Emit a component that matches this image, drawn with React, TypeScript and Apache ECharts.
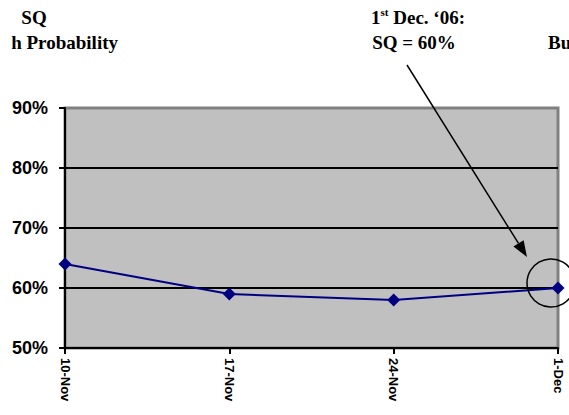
import React, { useEffect, useRef } from "react";
import * as echarts from "echarts";

const categories = ["10-Nov", "17-Nov", "24-Nov", "1-Dec"];
const sqValues = [64, 59, 58, 60];
const yMin = 50;
const yMax = 90;
const yStep = 10;

export default function App() {
  const ref = useRef<HTMLDivElement>(null);

  useEffect(() => {
    if (!ref.current) return;
    const chart = echarts.init(ref.current, undefined, { renderer: "svg" });
    const serif = "'Liberation Serif', 'Times New Roman', serif";
    const sans = "'Liberation Sans', Arial, sans-serif";

    chart.setOption({
      animation: false,
      backgroundColor: "#ffffff",
      grid: {
        left: 65,
        right: 11,
        top: 108,
        bottom: 67,
        show: true,
        backgroundColor: "#C0C0C0",
        borderColor: "#808080",
        borderWidth: 3,
        containLabel: false,
      },
      xAxis: {
        type: "category",
        data: categories,
        boundaryGap: false,
        axisLine: { show: true, lineStyle: { color: "#000", width: 2 } },
        axisTick: { show: true, length: 6, lineStyle: { color: "#000", width: 2 } },
        axisLabel: {
          rotate: -90,
          margin: 10,
          color: "#000",
          fontFamily: sans,
          fontWeight: "bold",
          fontSize: 13,
        },
        splitLine: { show: false },
      },
      yAxis: {
        type: "value",
        min: yMin,
        max: yMax,
        interval: yStep,
        axisLine: { show: true, lineStyle: { color: "#000", width: 2 } },
        axisTick: { show: true, length: 6, lineStyle: { color: "#000", width: 2 } },
        axisLabel: {
          formatter: "{value}%",
          margin: 17,
          color: "#000",
          fontFamily: sans,
          fontWeight: "bold",
          fontSize: 18,
        },
        splitLine: {
          show: true,
          showMinLine: false,
          showMaxLine: false,
          lineStyle: { color: "#000", width: 2 },
        },
      },
      series: [
        {
          type: "line",
          data: sqValues,
          symbol: "diamond",
          symbolSize: 13,
          lineStyle: { color: "#000080", width: 2 },
          itemStyle: { color: "#000080" },
          z: 5,
        },
      ],
    });

    const last = categories.length - 1;
    const pt = chart.convertToPixel({ seriesIndex: 0 }, [last, sqValues[last]]) as number[];
    const px = pt[0];
    const py = pt[1];
    const start = [407, 65];
    const tip = [px - 31, py - 31];
    const dx = tip[0] - start[0];
    const dy = tip[1] - start[1];
    const len = Math.sqrt(dx * dx + dy * dy);
    const ux = dx / len;
    const uy = dy / len;
    const headLen = 16;
    const headHalf = 6;
    const bx = tip[0] - ux * headLen;
    const by = tip[1] - uy * headLen;
    const p1 = [bx - uy * headHalf, by + ux * headHalf];
    const p2 = [bx + uy * headHalf, by - ux * headHalf];

    chart.setOption({
      graphic: [
        {
          type: "text",
          x: 34,
          y: 17,
          style: {
            text: "SQ",
            font: `bold 19px ${serif}`,
            fill: "#000",
            align: "center",
            verticalAlign: "middle",
          },
        },
        {
          type: "text",
          x: 118,
          y: 42,
          style: {
            text: "h Probability",
            font: `bold 19px ${serif}`,
            fill: "#000",
            align: "right",
            verticalAlign: "middle",
          },
        },
        {
          type: "text",
          x: 418,
          y: 17,
          style: {
            text: "{a|1}{s|st}{a| Dec. \u201806:}",
            font: `bold 19px ${serif}`,
            fill: "#000",
            align: "center",
            verticalAlign: "middle",
            rich: {
              a: { font: `bold 19px ${serif}`, fill: "#000" },
              s: { font: `bold 11px ${serif}`, fill: "#000", padding: [0, 0, 10, 0] },
            },
          },
        },
        {
          type: "text",
          x: 414,
          y: 42,
          style: {
            text: "SQ = 60%",
            font: `bold 19px ${serif}`,
            fill: "#000",
            align: "center",
            verticalAlign: "middle",
          },
        },
        {
          type: "text",
          x: 548,
          y: 42,
          style: {
            text: "Bu",
            font: `bold 19px ${serif}`,
            fill: "#000",
            align: "left",
            verticalAlign: "middle",
          },
        },
        {
          type: "line",
          shape: { x1: start[0], y1: start[1], x2: bx, y2: by },
          style: { stroke: "#000", lineWidth: 1.5 },
          z: 10,
        },
        {
          type: "polygon",
          shape: { points: [tip, p1, p2] },
          style: { fill: "#000" },
          z: 10,
        },
        {
          type: "circle",
          shape: { cx: px - 7, cy: py - 5, r: 24 },
          style: { fill: "none", stroke: "#000", lineWidth: 1.5 },
          z: 10,
        },
      ],
    });

    return () => chart.dispose();
  }, []);

  return (
    <div
      ref={ref}
      style={{ position: "fixed", left: 0, top: 0, width: 569, height: 415 }}
    />
  );
}
